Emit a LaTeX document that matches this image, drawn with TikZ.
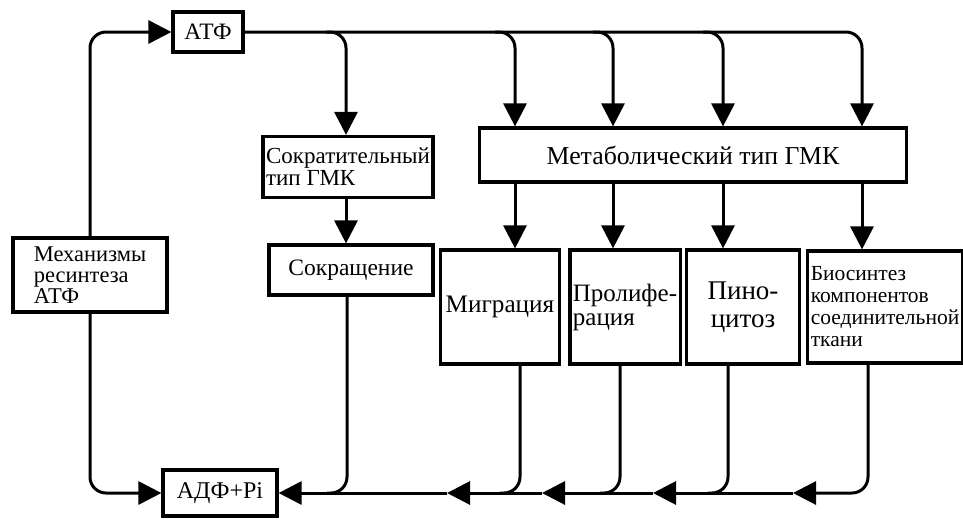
\documentclass[tikz,border=0pt]{standalone}
\usepackage{fontspec}
\setmainfont{Liberation Serif}
\usetikzlibrary{arrows.meta,calc}
\newcommand\fsz[2]{\fontsize{#1}{#2}\selectfont}
\begin{document}
\begin{tikzpicture}[x=1pt,y=-1pt,
  box/.style={draw,line width=3.2pt,inner sep=3pt},
  flow/.style={line width=3pt,rounded corners=16pt,
    -{Triangle[length=23pt,width=23pt]}},
  link/.style={line width=3pt,rounded corners=16pt}]
\useasboundingbox (0,0) rectangle (963,520);

% boxes
\node[box,minimum width=70pt,minimum height=40pt,font=\fsz{23.5}{22}] (atf) at (208,32) {АТФ};
\node[box,minimum width=170pt,minimum height=61pt,align=left,
      font=\fsz{23}{22}] (contr) at (348,167) {Сократительный\\тип ГМК};
\node[box,minimum width=164pt,minimum height=50pt,font=\fsz{23.5}{20}] (contraction) at (351,270) {Сокращение};
\node[box,minimum width=154pt,minimum height=74pt,align=left,
      font=\fsz{22.5}{21}] (mech) at (90,275) {Механизмы\\ресинтеза\\АТФ};
\node[box,minimum width=427pt,minimum height=54pt,font=\fsz{25.8}{23}] (metab) at (693,155) {Метаболический тип ГМК};
\node[box,minimum width=119pt,minimum height=114pt,font=\fsz{25.2}{23}] (migr) at (500,307) {Миграция};
\node[box,minimum width=110pt,minimum height=114pt,align=left,
      font=\fsz{25}{24}] (prolif) at (625,307) {Пролифе-\\рация};
\node[box,minimum width=113pt,minimum height=114pt,align=center,
      font=\fsz{27}{28}] (pino) at (743,307) {Пино-\\цитоз};
\node[box,minimum width=154pt,minimum height=112pt,align=left,
      font=\fsz{21.5}{22}] (bio) at (885,307) {Биосинтез\\компонентов\\соединительной\\ткани};
\node[box,minimum width=114pt,minimum height=46pt,font=\fsz{24}{22}] (adf) at (220,493) {АДФ+Pi};

% columns of the vertical connectors
\coordinate (cA) at (346,0);
\coordinate (c1) at (515,0);
\coordinate (c2) at (613,0);
\coordinate (c3) at (723,0);
\coordinate (c4) at (862,0);
\coordinate (d0) at (347,0);
\coordinate (d1) at (520,0);
\coordinate (d2) at (620,0);
\coordinate (d3) at (728,0);
\coordinate (d4) at (868,0);
% arrow tips on the return line
\coordinate (t1) at (793,493);
\coordinate (t2) at (653,493);
\coordinate (t3) at (542,493);
\coordinate (t4) at (447,493);

% resynthesis loop
\draw[flow] (mech.north) |- (atf.west);
\draw[flow] (mech.south) |- (adf.west);

% ATP distribution
\draw[flow] (atf.east) -| (c4 |- metab.north);
\draw[flow] ($(cA |- atf.east)+(-20,0)$) -| (cA |- contr.north);
\draw[flow] ($(c1 |- atf.east)+(-20,0)$) -| (c1 |- metab.north);
\draw[flow] ($(c2 |- atf.east)+(-20,0)$) -| (c2 |- metab.north);
\draw[flow] ($(c3 |- atf.east)+(-20,0)$) -| (c3 |- metab.north);

% downward links
\draw[flow] (cA |- contr.south) -- (cA |- contraction.north);
\draw[flow] (c1 |- metab.south) -- (c1 |- migr.north);
\draw[flow] (c2 |- metab.south) -- (c2 |- prolif.north);
\draw[flow] (c3 |- metab.south) -- (c3 |- pino.north);
\draw[flow] (c4 |- metab.south) -- (c4 |- bio.north);

% return of ADP
\draw[flow] (d4 |- bio.south) |- (t1);
\draw[flow] (t1) -- (t2);
\draw[flow] (t2) -- (t3);
\draw[flow] (t3) -- (t4);
\draw[flow] (t4) -- (adf.east);
\draw[link] (d3 |- pino.south) |- ($(d3 |- adf.east)+(-20,0)$);
\draw[link] (d2 |- prolif.south) |- ($(d2 |- adf.east)+(-20,0)$);
\draw[link] (d1 |- migr.south) |- ($(d1 |- adf.east)+(-20,0)$);
\draw[link] (d0 |- contraction.south) |- ($(d0 |- adf.east)+(-20,0)$);
\end{tikzpicture}
\end{document}
